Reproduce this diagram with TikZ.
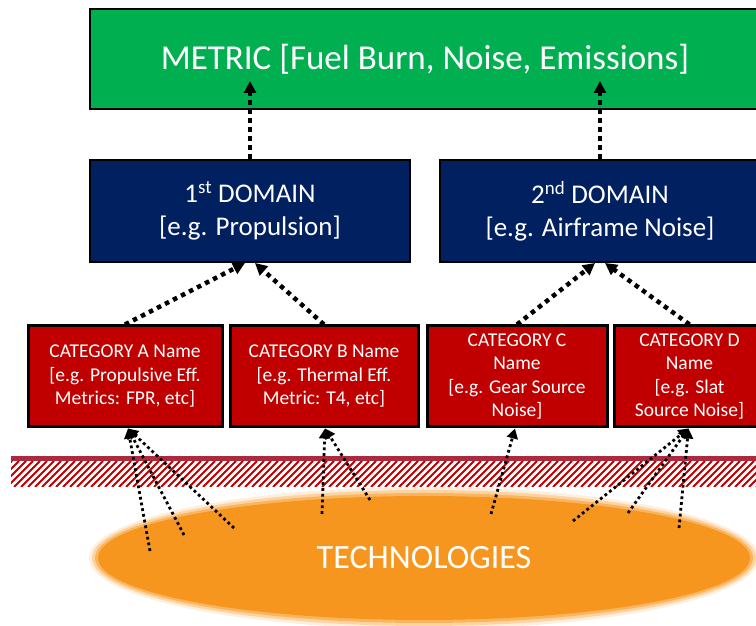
\documentclass[tikz,border=0pt]{standalone}
\usepackage{fontspec}
\setmainfont{Carlito}
\usetikzlibrary{arrows.meta,shapes.geometric}
\definecolor{metricgreen}{RGB}{0,176,80}
\definecolor{domnavy}{RGB}{0,32,96}
\definecolor{catred}{RGB}{192,0,0}
\definecolor{barred}{RGB}{172,42,62}
\definecolor{techorange}{RGB}{247,150,30}
\tikzset{
  metricbox/.style={draw=black, line width=2pt, fill=metricgreen, text=white,
    minimum width=670pt, minimum height=100pt, font=\fontsize{35}{42}\selectfont},
  dombox/.style={draw=black, line width=2pt, fill=domnavy, text=white, align=center,
    minimum width=320pt, minimum height=102pt, font=\fontsize{27}{33}\selectfont},
  catbox/.style={draw=black, line width=3pt, fill=catred, text=white, align=center,
    minimum height=101pt, font=\fontsize{19.5}{23.5}\selectfont},
  uplink/.style={line width=4.5pt, dash pattern=on 4.5pt off 4.5pt,
    -{Triangle[width=12pt,length=12pt]}},
  techlink/.style={line width=2.8pt, dash pattern=on 2.8pt off 3pt,
    -{Triangle[width=11pt,length=10pt]}},
}
\begin{document}
\begin{tikzpicture}[x=1pt, y=1pt]
  \useasboundingbox (0,0) rectangle (756,626);
  \clip (0,0) rectangle (756,626);

  \node[metricbox] (metric) at (425,567) {METRIC [Fuel Burn, Noise, Emissions]};

  \node[dombox] (dom1) at (250,415) {1\textsuperscript{st} DOMAIN\\{[}e.g. Propulsion]};
  \node[dombox] (dom2) at (600,415) {2\textsuperscript{nd} DOMAIN\\{[}e.g. Airframe Noise]};

  \node[catbox, minimum width=194pt] (catA) at (125,249.5)
    {CATEGORY A Name\\{[}e.g. Propulsive Eff.\\Metrics: FPR, etc]};
  \node[catbox, minimum width=188pt] (catB) at (324,249.5)
    {CATEGORY B Name\\{[}e.g. Thermal Eff.\\Metric: T4, etc]};
  \node[catbox, minimum width=180pt] (catC) at (517,249.5)
    {CATEGORY C\\Name\\{[}e.g. Gear Source\\Noise]};
  \node[catbox, minimum width=151pt] (catD) at (689.5,249.5)
    {CATEGORY D\\Name\\{[}e.g. Slat\\Source Noise]};

  % hatched barrier
  \begin{scope}
    \clip (11,139) rectangle (756,165);
    \foreach \x in {-35,-28,...,760}
      \draw[catred, line width=2pt] (\x,139) -- ++(26,26);
  \end{scope}
  \draw[barred, line width=5pt] (11,167.5) -- (756,167.5);

  \foreach \w/\o in {9/0.15,6/0.3,3/0.5}
    \fill[techorange, opacity=\o] (424,68) ellipse [x radius=326+\w, y radius=62+\w];
  \node[ellipse, fill=techorange, minimum width=652pt, minimum height=124pt, text=white,
    font=\fontsize{34}{40}\selectfont] (tech) at (424,68) {TECHNOLOGIES};

  \draw[uplink] (dom1.north) -- ++(0,78);
  \draw[uplink] (dom2.north) -- ++(0,78);
  \draw[uplink] (catA.north) -- ([xshift=-5pt]dom1.south);
  \draw[uplink] (catB.north) -- ([xshift=5pt]dom1.south);
  \draw[uplink] (catC.north) -- ([xshift=-5pt]dom2.south);
  \draw[uplink] (catD.north) -- ([xshift=5pt]dom2.south);

  \coordinate (t1) at (150,75);
  \coordinate (t2) at (184,91);
  \coordinate (t3) at (234,98);
  \coordinate (t4) at (322,112);
  \coordinate (t5) at (370,126);
  \coordinate (t6) at (491,112);
  \coordinate (t7) at (573,105);
  \coordinate (t8) at (628,113);
  \coordinate (t9) at (679,98);
  \foreach \t in {t1,t2,t3}
    \draw[techlink] (\t) -- ([xshift=3pt]catA.south);
  \foreach \t in {t4,t5}
    \draw[techlink] (\t) -- ([xshift=1pt]catB.south);
  \draw[techlink] (t6) -- ([xshift=-2pt]catC.south);
  \foreach \t in {t7,t8,t9}
    \draw[techlink] (\t) -- ([xshift=-1pt]catD.south);
\end{tikzpicture}
\end{document}
